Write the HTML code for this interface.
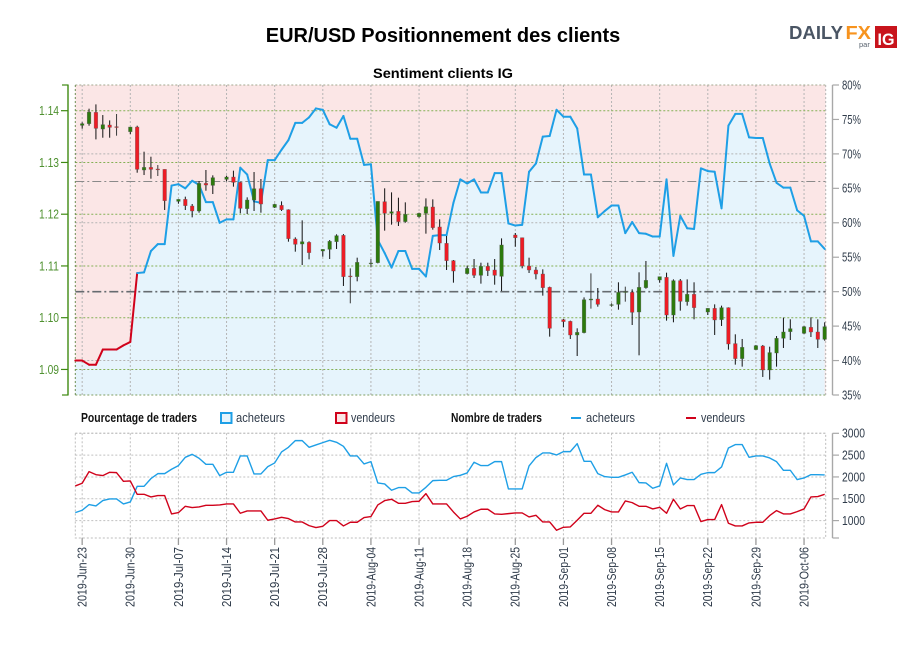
<!DOCTYPE html>
<html lang="fr">
<head>
<meta charset="utf-8">
<title>EUR/USD Positionnement des clients</title>
<style>
html,body{margin:0;padding:0;background:#fff;}
svg{display:block;font-family:"Liberation Sans",sans-serif;}
</style>
</head>
<body>
<svg id="chart" xmlns="http://www.w3.org/2000/svg" width="900" height="650" viewBox="0 0 900 650">
  <rect x="0" y="0" width="900" height="650" fill="#ffffff"/>
  <text x="443" y="42" text-anchor="middle" font-size="20" font-weight="bold" fill="#000">EUR/USD Positionnement des clients</text>
  <text x="373" y="78" font-size="14" font-weight="bold" fill="#000" textLength="140" lengthAdjust="spacingAndGlyphs">Sentiment clients IG</text>
  <g>
    <text x="789" y="39" font-size="18" font-weight="bold" fill="#4a5564" textLength="54" lengthAdjust="spacingAndGlyphs">DAILY</text>
    <text x="845.5" y="39" font-size="18" font-weight="bold" fill="#f7931e" textLength="25.5" lengthAdjust="spacingAndGlyphs">FX</text>
    <text x="859" y="47" font-size="7.5" fill="#59636f">par</text>
    <rect x="875" y="26" width="22" height="22" fill="#c8141c"/>
    <text x="877.5" y="45" font-size="17" font-weight="bold" fill="#fff" textLength="17" lengthAdjust="spacingAndGlyphs">IG</text>
  </g>
  <g id="top-panel"></g>
  <g id="legend">
    <text x="81" y="422" font-size="12.5" font-weight="bold" fill="#111" textLength="116" lengthAdjust="spacingAndGlyphs">Pourcentage de traders</text>
    <rect x="221" y="413" width="10.5" height="10" fill="#e6f4fc" stroke="#1e9fe6" stroke-width="2"/>
    <text x="236" y="422" font-size="12.5" fill="#2f3b4a" textLength="49" lengthAdjust="spacingAndGlyphs">acheteurs</text>
    <rect x="336" y="413" width="10.5" height="10" fill="#fbe6e6" stroke="#d0021b" stroke-width="2"/>
    <text x="351" y="422" font-size="12.5" fill="#2f3b4a" textLength="44" lengthAdjust="spacingAndGlyphs">vendeurs</text>
    <text x="451" y="422" font-size="12.5" font-weight="bold" fill="#111" textLength="91" lengthAdjust="spacingAndGlyphs">Nombre de traders</text>
    <line x1="571" x2="581" y1="418" y2="418" stroke="#1e9fe6" stroke-width="2"/>
    <text x="586" y="422" font-size="12.5" fill="#2f3b4a" textLength="49" lengthAdjust="spacingAndGlyphs">acheteurs</text>
    <line x1="686" x2="696" y1="418" y2="418" stroke="#d0021b" stroke-width="2"/>
    <text x="701" y="422" font-size="12.5" fill="#2f3b4a" textLength="44" lengthAdjust="spacingAndGlyphs">vendeurs</text>
  </g>
  <g id="bottom-panel"></g>
</svg>
<script>
const dateLabels = ["2019-Jun-23","2019-Jun-30","2019-Jul-07","2019-Jul-14","2019-Jul-21","2019-Jul-28","2019-Aug-04","2019-Aug-11","2019-Aug-18","2019-Aug-25","2019-Sep-01","2019-Sep-08","2019-Sep-15","2019-Sep-22","2019-Sep-29","2019-Oct-06"];
const priceTicks = [1.09,1.10,1.11,1.12,1.13,1.14];
const percentTicks = [35,40,45,50,55,60,65,70,75,80];
const countTicks = [1000,1500,2000,2500,3000];
const buyerPercent = [40.0,40.0,39.4,39.4,41.6,41.6,41.6,42.2,42.7,52.7,52.8,55.9,56.9,56.9,65.4,65.6,65.0,66.1,65.5,63.0,63.0,60.0,60.5,60.5,68.0,67.0,63.1,62.9,69.1,69.1,70.6,72.0,74.5,74.5,75.3,76.6,76.4,74.3,73.8,75.5,72.2,72.2,68.4,68.5,57.5,55.6,53.5,55.9,55.9,53.3,53.3,52.2,58.1,58.2,58.2,62.9,66.3,65.7,66.3,64.4,64.4,67.2,67.2,59.9,59.6,59.7,67.4,68.6,72.5,72.6,76.4,75.4,75.4,73.7,67.0,67.0,60.8,61.7,62.5,62.5,58.5,60.1,58.5,58.4,58.0,58.0,66.3,55.2,61.0,59.2,59.1,67.9,67.5,67.4,62.1,74.1,75.8,75.8,72.4,72.3,72.3,68.6,65.8,65.1,65.1,61.8,61.0,57.3,57.3,56.2];
const buyerCount = [1183,1237,1366,1336,1458,1496,1496,1382,1428,1786,1786,1962,2076,2076,2176,2260,2450,2519,2428,2290,2290,2031,2107,2107,2481,2481,2069,2069,2237,2321,2573,2679,2832,2832,2679,2733,2786,2840,2794,2702,2481,2481,2298,2351,1863,1840,1695,1756,1756,1634,1634,1763,1916,1924,1924,2008,2038,2092,2336,2260,2260,2351,2351,1725,1725,1725,2252,2443,2550,2550,2504,2580,2580,2763,2359,2359,2076,2008,1992,1992,2046,2107,1870,1863,1741,1794,2313,1817,1977,1939,1939,2061,2099,2099,2229,2664,2741,2741,2450,2481,2481,2435,2351,2153,2153,1939,1977,2053,2053,2046];
const sellerCount = [1794,1855,2122,2053,2031,2107,2099,1901,1908,1603,1603,1542,1573,1573,1153,1183,1328,1298,1313,1351,1351,1359,1382,1382,1168,1221,1221,1221,1008,1038,1076,1046,969,969,885,840,870,1000,1000,878,962,962,1069,1092,1359,1458,1489,1397,1397,1435,1443,1618,1382,1382,1382,1198,1038,1099,1198,1260,1260,1153,1145,1160,1176,1176,1084,1122,969,969,779,847,855,1008,1168,1168,1351,1252,1198,1198,1450,1412,1328,1328,1267,1305,1168,1489,1267,1344,1344,977,1023,1023,1366,939,878,878,947,962,962,1115,1229,1153,1153,1206,1267,1542,1550,1603];
const candleOpen = [null,1.13717,1.13749,1.13968,1.13646,1.13723,1.13691,null,1.13594,1.13684,1.12854,1.12905,1.12873,1.12867,null,1.12248,1.12287,1.12158,1.12062,1.12596,1.12557,null,1.12673,1.12718,1.12615,1.12107,1.12274,1.12493,null,1.12132,1.12171,1.12087,1.11521,1.11424,1.11456,null,1.11289,1.11321,1.11469,1.11591,1.10806,1.10793,null,1.11044,1.11063,1.12242,1.12017,1.12055,1.11856,null,1.11952,1.12017,1.12139,1.11753,1.11437,1.11102,null,1.10851,1.10954,1.10819,1.10993,1.10922,1.10799,null,1.11598,1.11546,1.10999,1.10922,1.10844,1.10587,null,1.09962,1.09930,1.09666,1.09711,1.10342,1.10361,null,1.10239,1.10258,1.10490,1.10490,1.10110,1.10580,null,1.10729,1.10780,1.10052,1.10716,1.10310,1.10452,null,1.10110,1.10181,1.09962,1.10194,1.09499,1.09209,null,1.09383,1.09453,1.08990,1.09318,1.09602,1.09730,null,1.09698,1.09814,1.09724,1.09582];
const candleHigh = [null,1.13775,1.14039,1.14122,1.13916,1.13813,1.13936,null,1.13684,1.13710,1.13208,1.13111,1.12950,1.12867,null,1.12287,1.12339,1.12197,1.12641,1.12854,1.12751,null,1.12744,1.12841,1.12628,1.12326,1.12815,1.12680,null,1.12203,1.12248,1.12094,1.11553,1.11881,1.11476,null,1.11321,1.11501,1.11611,1.11617,1.10954,1.11160,null,1.11134,1.12248,1.12500,1.12422,1.12319,1.12229,null,1.12029,1.12306,1.12287,1.11901,1.11579,1.11115,null,1.11005,1.11134,1.11063,1.11063,1.11134,1.11533,null,1.11637,1.11546,1.11160,1.10980,1.10935,1.10600,null,1.09975,1.09943,1.09795,1.10393,1.10857,1.10574,null,1.10278,1.10684,1.10600,1.10548,1.10877,1.11096,null,1.10793,1.10870,1.10741,1.10748,1.10741,1.10684,null,1.10181,1.10258,1.10233,1.10200,1.09679,1.09589,null,1.09473,1.09473,1.09440,1.09646,1.10001,1.09969,null,1.09840,1.10007,1.09969,1.09911];
const candleLow = [null,1.13652,1.13710,1.13446,1.13478,1.13478,1.13517,null,1.13549,1.12802,1.12757,1.12686,1.12738,1.12081,null,1.12203,1.12081,1.11939,1.12029,1.12454,1.12390,null,1.12635,1.12532,1.12017,1.12004,1.12062,1.12029,null,1.12120,1.12062,1.11469,1.11276,1.11018,1.11128,null,1.11179,1.11134,1.11328,1.10613,1.10278,1.10703,null,1.10973,1.11050,1.11682,1.11798,1.11772,1.11836,null,1.11933,1.11624,1.11701,1.11308,1.10922,1.10677,null,1.10838,1.10767,1.10658,1.10806,1.10638,1.10516,null,1.11372,1.10954,1.10864,1.10741,1.10426,1.09634,null,1.09814,1.09589,1.09260,1.09698,1.10175,1.10213,null,1.10213,1.10155,1.10310,1.09859,1.09273,1.10561,null,1.10677,1.09943,1.09911,1.10136,1.10233,1.09969,null,1.10052,1.09666,1.09840,1.09383,1.09093,1.09054,null,1.09376,1.08855,1.08803,1.09054,1.09415,1.09569,null,1.09685,1.09627,1.09415,1.09556];
const candleClose = [null,1.13749,1.13974,1.13659,1.13730,1.13678,1.13684,null,1.13684,1.12867,1.12905,1.12867,1.12867,1.12261,null,1.12287,1.12165,1.12062,1.12596,1.12564,1.12706,null,1.12718,1.12615,1.12113,1.12274,1.12493,1.12197,null,1.12190,1.12087,1.11527,1.11418,1.11469,1.11257,null,1.11321,1.11476,1.11585,1.10793,1.10793,1.11070,null,1.11057,1.12248,1.12017,1.12049,1.11856,1.11997,null,1.12017,1.12145,1.11740,1.11443,1.11102,1.10902,null,1.10954,1.10819,1.10993,1.10909,1.10819,1.11405,null,1.11546,1.10999,1.10922,1.10844,1.10580,1.09795,null,1.09924,1.09666,1.09717,1.10348,1.10361,1.10258,null,1.10252,1.10490,1.10503,1.10104,1.10587,1.10722,null,1.10793,1.10052,1.10716,1.10316,1.10452,1.10194,null,1.10181,1.09956,1.10194,1.09492,1.09209,1.09428,null,1.09460,1.08990,1.09326,1.09602,1.09724,1.09788,null,1.09827,1.09724,1.09582,1.09827];

const NS = "http://www.w3.org/2000/svg";
const plotLeft = 75.3, plotRight = 825.7, dayStep = 6.875;
const topTop = 85, topBottom = 395, botTop = 433.3, botBottom = 538;
const xDay = d => plotLeft + dayStep * d;
const yPrice = p => 110.7 + (1.14 - p) * 5175;
const yPercent = p => topBottom - (p - 35) * (topBottom - topTop) / 45;
const yCount = c => botTop + (3000 - c) * 0.04365;
const svgTop = document.getElementById("top-panel");
const svgBot = document.getElementById("bottom-panel");

function make(parent, tag, props) {
  const el = document.createElementNS(NS, tag);
  for (const k in props) el.setAttribute(k, props[k]);
  parent.appendChild(el);
  return el;
}
function pts(values, yFn) {
  return values.map((v, i) => xDay(i).toFixed(2) + "," + yFn(v).toFixed(2)).join(" ");
}

// ---- top panel ----
const pinkBg = make(svgTop, "rect", {x: plotLeft, y: topTop, width: plotRight - plotLeft, height: topBottom - topTop, fill: "#fbe6e6"});


const blueArea = make(svgTop, "polygon", {
  points: xDay(0) + "," + topBottom + " " + pts(buyerPercent, yPercent) + " " + xDay(buyerPercent.length - 1) + "," + topBottom,
  fill: "#e6f4fc"
});



const dotted = {fill: "none", "stroke-dasharray": "2 2"};
dateLabels.forEach((label, k) => {
  const x = xDay(1 + k * 7);
  const g1 = make(svgTop, "line", Object.assign({x1: x, x2: x, y1: topTop, y2: topBottom, stroke: "#b4b4b4", "stroke-width": 1}, dotted));
  
  
  const g2 = make(svgBot, "line", Object.assign({x1: x, x2: x, y1: botTop, y2: botBottom, stroke: "#c0c0c0", "stroke-width": 1}, dotted));
  
  
  const tick = make(svgBot, "line", {x1: x, x2: x, y1: botBottom, y2: botBottom + 7, stroke: "#9a9a9a", "stroke-width": 1.3});
  
  
  const t = make(svgBot, "text", {transform: "translate(" + (x + 4.4) + ",607) rotate(-90)", "font-size": 12.5, fill: "#2f3b4a", textLength: 60, lengthAdjust: "spacingAndGlyphs"});
  t.textContent = label;
  
  
});

percentTicks.filter(p => p % 10 === 0 && p !== 50 && p !== 80).forEach(p => {
  const l = make(svgTop, "line", Object.assign({x1: plotLeft, x2: plotRight, y1: yPercent(p), y2: yPercent(p), stroke: "#b4b4b4", "stroke-width": 1}, dotted));
  
  
});
priceTicks.forEach(p => {
  const l = make(svgTop, "line", Object.assign({x1: plotLeft, x2: plotRight, y1: yPrice(p), y2: yPrice(p), stroke: "#84b055", "stroke-width": 1}, dotted));
  
  
});
const refUpper = make(svgTop, "line", {x1: plotLeft, x2: plotRight, y1: yPercent(66), y2: yPercent(66), stroke: "#8a8a8a", "stroke-width": 1, "stroke-dasharray": "9 3 2 3"});


const refMid = make(svgTop, "line", {x1: plotLeft, x2: plotRight, y1: yPercent(50), y2: yPercent(50), stroke: "#666b70", "stroke-width": 1.6, "stroke-dasharray": "9 3 2 3"});



// frame
const frameTop = make(svgTop, "line", Object.assign({x1: plotLeft, x2: plotRight, y1: topTop, y2: topTop, stroke: "#a3a88f", "stroke-width": 1}, dotted));


const frameBottom = make(svgTop, "line", Object.assign({x1: plotLeft, x2: plotRight, y1: topBottom, y2: topBottom, stroke: "#7f9e62", "stroke-width": 1}, dotted));


const frameLeft = make(svgTop, "line", Object.assign({x1: plotLeft, x2: plotLeft, y1: topTop, y2: topBottom, stroke: "#6e8f55", "stroke-width": 1}, dotted));


const frameRight = make(svgTop, "line", Object.assign({x1: plotRight, x2: plotRight, y1: topTop, y2: topBottom, stroke: "#b4b4b4", "stroke-width": 1}, dotted));



// percent line
for (let i = 0; i < buyerPercent.length - 1; i++) {
  const seg = make(svgTop, "line", {
    x1: xDay(i), y1: yPercent(buyerPercent[i]), x2: xDay(i + 1), y2: yPercent(buyerPercent[i + 1]),
    stroke: buyerPercent[i] < 50 ? "#d0021b" : "#1e9fe6", "stroke-width": 2, "stroke-linecap": "round"
  });
  
  
}

// candles
candleOpen.forEach((o, i) => {
  if (o === null) return;
  const c = candleClose[i];
  const x = xDay(i);
  const wick = make(svgTop, "line", {x1: x, x2: x, y1: yPrice(candleHigh[i]), y2: yPrice(candleLow[i]), stroke: Math.abs(o - c) < 0.0002 ? "#3a3a3a" : "#111", "stroke-width": 1});
  
  
  const top = yPrice(Math.max(o, c));
  const bot = yPrice(Math.min(o, c));
  const body = make(svgTop, "rect", {
    x: x - 1.8, y: top, width: 3.6, height: Math.max(bot - top, 0.8),
    fill: c >= o ? "#2c7a0c" : "#ee1c25", stroke: "#555", "stroke-opacity": 0.55, "stroke-width": 0.6
  });
  
  
});

// left axis
const leftAxis = make(svgTop, "line", {x1: 68, x2: 68, y1: topTop - 0.5, y2: topBottom + 0.5, stroke: "#3f8a12", "stroke-width": 1.4});


[topTop, topBottom].forEach(y => {
  const cap = make(svgTop, "line", {x1: 62, x2: 68, y1: y, y2: y, stroke: "#3f8a12", "stroke-width": 1.2});
  
  
});
priceTicks.forEach(p => {
  const y = yPrice(p);
  const tick = make(svgTop, "line", {x1: 61, x2: 68, y1: y, y2: y, stroke: "#3f8a12", "stroke-width": 1.2});
  
  
  const t = make(svgTop, "text", {x: 39, y: y + 4.4, "font-size": 12.5, fill: "#4f9130", textLength: 20, lengthAdjust: "spacingAndGlyphs"});
  t.textContent = p.toFixed(2);
  
  
});

// right percent axis
const rightAxis = make(svgTop, "line", {x1: 832.5, x2: 832.5, y1: topTop, y2: topBottom, stroke: "#a8a8a8", "stroke-width": 1.4});


percentTicks.forEach(p => {
  const y = yPercent(p);
  const tick = make(svgTop, "line", {x1: 832.5, x2: 839, y1: y, y2: y, stroke: "#a8a8a8", "stroke-width": 1.2});
  
  
  const t = make(svgTop, "text", {x: 842, y: y + 4.4, "font-size": 12.5, fill: "#2f3b4a", textLength: 19, lengthAdjust: "spacingAndGlyphs"});
  t.textContent = p + "%";
  
  
});

// ---- bottom panel ----
countTicks.forEach(c => {
  const y = yCount(c);
  const l = make(svgBot, "line", Object.assign({x1: plotLeft, x2: plotRight, y1: y, y2: y, stroke: "#c0c0c0", "stroke-width": 1}, dotted));
  
  
  const tick = make(svgBot, "line", {x1: 832.5, x2: 839, y1: y, y2: y, stroke: "#a8a8a8", "stroke-width": 1.2});
  
  
  const t = make(svgBot, "text", {x: 842, y: y + 4.4, "font-size": 12.5, fill: "#2f3b4a", textLength: 23, lengthAdjust: "spacingAndGlyphs"});
  t.textContent = c;
  
  
});
const botFrame = make(svgBot, "rect", Object.assign({x: plotLeft, y: botTop, width: plotRight - plotLeft, height: botBottom - botTop, stroke: "#bdbdbd", "stroke-width": 1}, dotted));


const countAxis = make(svgBot, "line", {x1: 832.5, x2: 832.5, y1: botTop, y2: botBottom, stroke: "#a8a8a8", "stroke-width": 1.4});


const countEnd = make(svgBot, "line", {x1: 832.5, x2: 839, y1: botBottom, y2: botBottom, stroke: "#a8a8a8", "stroke-width": 1.2});


const buyersLine = make(svgBot, "polyline", {points: pts(buyerCount, yCount), fill: "none", stroke: "#1e9fe6", "stroke-width": 1.4, "stroke-linejoin": "round"});


const sellersLine = make(svgBot, "polyline", {points: pts(sellerCount, yCount), fill: "none", stroke: "#d0021b", "stroke-width": 1.4, "stroke-linejoin": "round"});


</script>
</body>
</html>
